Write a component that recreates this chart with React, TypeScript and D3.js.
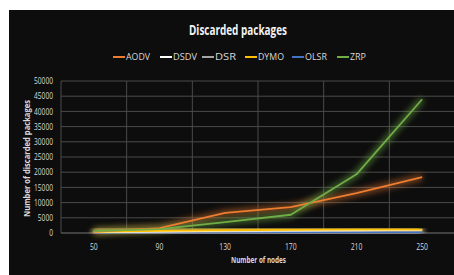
import React from "react";
import * as d3 from "d3";

const categories = ["50", "90", "130", "170", "210", "250"];
const yTicks = [0, 5000, 10000, 15000, 20000, 25000, 30000, 35000, 40000, 45000, 50000];
const seriesNames = ["AODV", "DSDV", "DSR", "DYMO", "OLSR", "ZRP"];
const seriesColors = ["#ed7d31", "#ffffff", "#a5a5a5", "#ffc000", "#4472c4", "#70ad47"];
const aodv = [400, 1600, 6600, 8500, 13100, 18400];
const dsdv = [300, 500, 700, 800, 900, 1000];
const dsr = [200, 400, 500, 600, 700, 800];
const dymo = [400, 700, 900, 1000, 1100, 1100];
const olsr = [100, 200, 200, 300, 300, 300];
const zrp = [600, 1300, 3600, 6000, 19300, 44000];
const seriesValues = [aodv, dsdv, dsr, dymo, olsr, zrp];
const drawOrder = [4, 2, 1, 3, 0, 5];

export default function App() {
  const W = 454, H = 275;
  const x = d3.scalePoint<string>().domain(categories).range([61, 455]).padding(0.5);
  const y = d3.scaleLinear().domain([0, 50000]).range([233, 81]);
  const step = x.step();
  const line = d3.line<number>().x((_, i) => x(categories[i])!).y((d) => y(d));
  const font = "'Open Sans', 'Noto Sans', sans-serif";
  const legendX = [113, 160, 202, 245, 292, 337];
  const legendW = [24, 24, 21, 26, 22, 16];
  const fit = { lengthAdjust: "spacingAndGlyphs" } as any;
  return (
    <svg width={W} height={H} style={{ position: "absolute", left: 0, top: 0 }} fontFamily={font}>
      <defs>
        <filter id="glow" x="-20%" y="-50%" width="140%" height="200%">
          <feGaussianBlur stdDeviation="3" />
        </filter>
      </defs>
      <rect x={0} y={0} width={W} height={H} fill="#ffffff" />
      <rect x={9} y={10} width={W - 9} height={H - 10} fill="#0d0d0d" />
      <text x={189} y={35} fill="#f2f2f2" fontSize={14.5} fontWeight="bold" textLength={98} {...fit}>
        Discarded packages
      </text>
      {seriesNames.map((n, i) => (
        <g key={n}>
          <line x1={legendX[i]} x2={legendX[i] + 12} y1={57} y2={57} stroke={seriesColors[i]} strokeWidth={2} />
          <text x={legendX[i] + 13} y={60} fill="#d9d9d9" fontSize={8.5} textLength={legendW[i]} {...fit}>{n}</text>
        </g>
      ))}
      {yTicks.map((t) => {
        const s = String(t);
        const w = s.length * 3.8;
        return (
          <g key={t}>
            <line x1={61} x2={455} y1={y(t)} y2={y(t)} stroke="#4a4a4a" strokeWidth={1} />
            <text x={53 - w} y={y(t) + 3.2} fill="#d9d9d9" fontSize={9.5} textLength={w} {...fit}>{s}</text>
          </g>
        );
      })}
      {categories.map((c, i) => {
        const w = c.length * 3.9;
        return (
          <g key={c}>
            <line x1={61 + i * step} x2={61 + i * step} y1={81} y2={233} stroke="#4a4a4a" strokeWidth={1} />
            <text x={x(c)! - w / 2} y={250} fill="#d9d9d9" fontSize={9.5} textLength={w} {...fit}>{c}</text>
          </g>
        );
      })}
      <line x1={61} x2={455} y1={233} y2={233} stroke="#595959" />
      {drawOrder.map((si) => (
        <path key={"g" + si} d={line(seriesValues[si])!} fill="none" stroke={seriesColors[si]} strokeWidth={6} opacity={0.55} filter="url(#glow)" />
      ))}
      {drawOrder.map((si) => (
        <path key={"l" + si} d={line(seriesValues[si])!} fill="none" stroke={seriesColors[si]} strokeWidth={1.8} strokeLinejoin="round" />
      ))}
      <text x={231} y={263} fill="#d9d9d9" fontSize={9} fontWeight="bold" textLength={55} {...fit}>Number of nodes</text>
      <text transform="translate(30,217) rotate(-90)" fill="#d9d9d9" fontSize={9} fontWeight="bold" textLength={117} {...fit}>
        Number of discarded packages
      </text>
    </svg>
  );
}
